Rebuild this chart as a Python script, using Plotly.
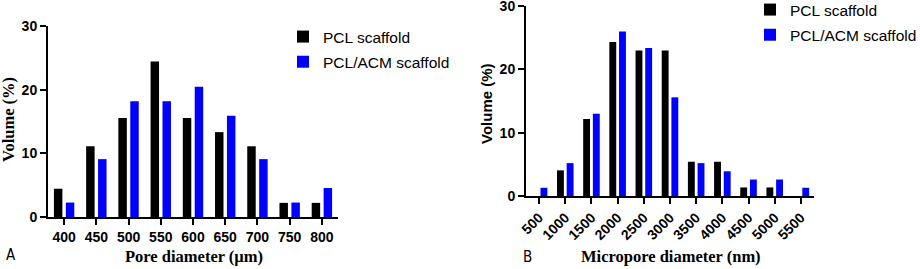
import plotly.graph_objects as go

# ---- Data ----
pore_cats = ["400", "450", "500", "550", "600", "650", "700", "750", "800"]
pore_pcl = [4.44, 11.11, 15.56, 24.44, 15.56, 13.33, 11.11, 2.22, 2.22]
pore_pcl_acm = [2.27, 9.09, 18.18, 18.18, 20.45, 15.91, 9.09, 2.27, 4.55]

micro_cats = ["500", "1000", "1500", "2000", "2500", "3000", "3500", "4000", "4500", "5000", "5500"]
micro_pcl = [0, 4.05, 12.16, 24.32, 22.97, 22.97, 5.41, 5.41, 1.35, 1.35, 0]
micro_pcl_acm = [1.30, 5.19, 12.99, 25.97, 23.38, 15.58, 5.19, 3.90, 2.60, 2.60, 1.30]

series_names = ["PCL scaffold", "PCL/ACM scaffold"]
colors = ["#000000", "#0000FF"]

W, H = 920, 269

def px_x(p):
    return p / W

def px_y(p):
    return 1 - p / H

fig = go.Figure()

for i, (vals, name) in enumerate(zip([pore_pcl, pore_pcl_acm], series_names)):
    fig.add_trace(go.Bar(x=pore_cats, y=vals, name=name, marker=dict(color=colors[i], line=dict(width=0)),
                         xaxis="x", yaxis="y", legend="legend", legendgroup="a%d" % i))
for i, (vals, name) in enumerate(zip([micro_pcl, micro_pcl_acm], series_names)):
    fig.add_trace(go.Bar(x=micro_cats, y=vals, name=name, marker=dict(color=colors[i], line=dict(width=0)),
                         xaxis="x2", yaxis="y2", legend="legend2", legendgroup="b%d" % i))

tickfont = dict(family="Liberation Sans, Arial", size=14, color="black", weight="bold")
axis_common = dict(showline=True, linewidth=2, linecolor="black", ticks="outside", ticklen=6,
                   tickwidth=2, tickcolor="black", showgrid=False, zeroline=False, tickfont=tickfont,
                   fixedrange=True, automargin=False, ticklabeloverflow="allow")

fig.update_layout(
    width=W, height=H,
    margin=dict(l=0, r=0, t=0, b=0, autoexpand=False),
    paper_bgcolor="white", plot_bgcolor="white",
    barmode="group", bargap=0.26, bargroupgap=0.29,
    xaxis=dict(domain=[px_x(48), px_x(338)], anchor="y", type="category", **axis_common),
    yaxis=dict(domain=[px_y(217), px_y(26)], anchor="x", range=[0, 30], dtick=10, **axis_common),
    xaxis2=dict(domain=[px_x(526), px_x(814)], anchor="y2", type="category", tickangle=-45, **axis_common),
    yaxis2=dict(domain=[px_y(196), px_y(6)], anchor="x2", range=[0, 30], dtick=10, **axis_common),
    legend=dict(x=px_x(283), y=px_y(20), xanchor="left", yanchor="top", bgcolor="rgba(0,0,0,0)",
                font=dict(family="Liberation Sans, Arial", size=15.5, color="black"), tracegroupgap=2),
    legend2=dict(x=px_x(750), y=px_y(-7), xanchor="left", yanchor="top", bgcolor="rgba(0,0,0,0)",
                 font=dict(family="Liberation Sans, Arial", size=15.5, color="black"), tracegroupgap=2),
    showlegend=True,
)

serif_bold = dict(family="Liberation Serif, Times New Roman", size=16.5, color="black", weight="bold")
sans_bold = dict(family="Liberation Sans, Arial", size=15, color="black", weight="bold")
label_font = dict(family="DejaVu Sans Condensed, DejaVu Sans", size=15, color="black")

annotations = [
    dict(text="Volume (%)", x=px_x(8), y=px_y(120), textangle=-90, font=serif_bold),
    dict(text="Pore diameter (µm)", x=px_x(194), y=px_y(256), font=serif_bold),
    dict(text="A", x=px_x(11), y=px_y(255), font=label_font),
    dict(text="Volume (%)", x=px_x(486), y=px_y(103), textangle=-90, font=sans_bold),
    dict(text="Micropore diameter (nm)", x=px_x(671), y=px_y(256), font=serif_bold),
    dict(text="B", x=px_x(527), y=px_y(257), font=label_font),
]
for a in annotations:
    a.update(xref="paper", yref="paper", showarrow=False, xanchor="center", yanchor="middle")
fig.update_layout(annotations=annotations)

fig.write_html("out.html", config={"displayModeBar": False, "staticPlot": True},
               post_script="document.body.style.margin='0';")
